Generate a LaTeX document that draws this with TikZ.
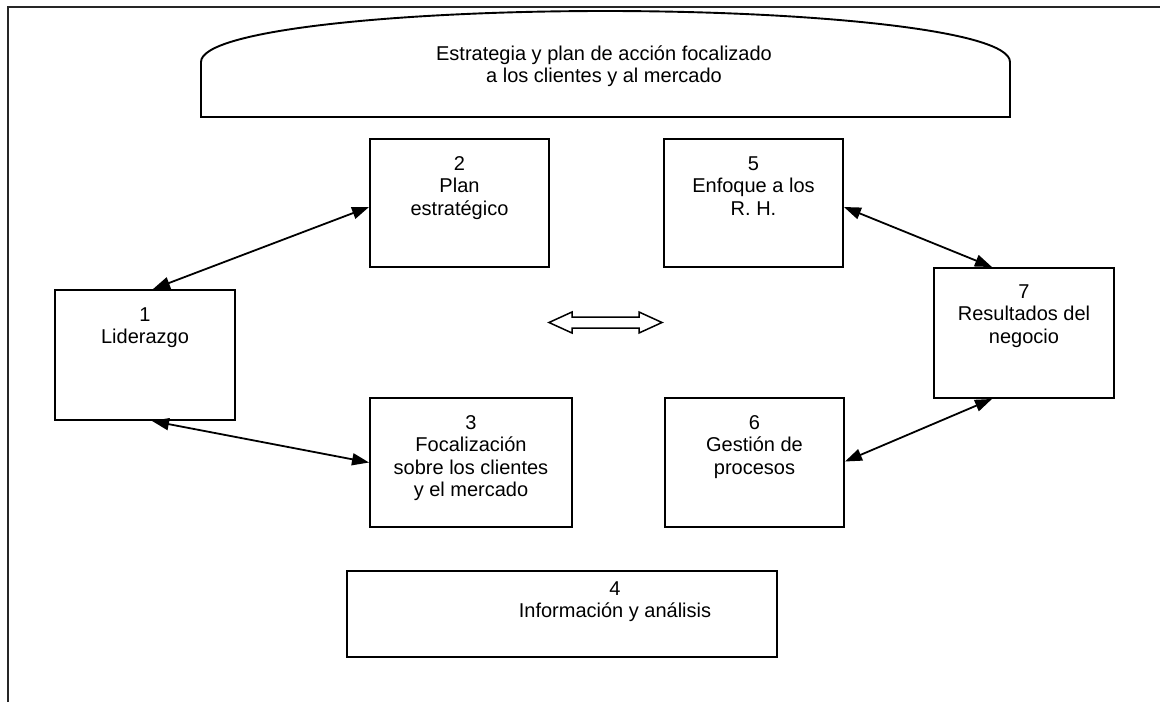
\documentclass[tikz,border=0pt]{standalone}
\usepackage{fontspec}
\setmainfont{Liberation Sans}
\usetikzlibrary{arrows.meta}
\begin{document}
\begin{tikzpicture}[x=1pt,y=-1pt,
  >={Triangle[length=17pt,width=12pt]},
  box/.style={draw,line width=1.9pt,inner sep=0pt},
  lbl/.style={anchor=north,align=center,inner sep=0pt,
    font=\fontsize{20}{22.5}\selectfont},
  conn/.style={<->,line width=1.8pt},
  frame/.style={line width=1.8pt,black!85}]
% canvas
\fill[white] (0,0) rectangle (1160,702);
\useasboundingbox (0,0) rectangle (1160,702);
% outer frame (top and left edges)
\draw[frame] (8,702) -- (8,7) -- (1160,7);
% arched banner
\draw[line width=1.9pt] (201,117) -- (201,62)
  .. controls (201,30) and (400,11) .. (605,11)
  .. controls (810,11) and (1010,30) .. (1010,62)
  -- (1010,117) -- cycle;
\node[lbl] (banner) at (604,44) {\rule{0pt}{16pt}Estrategia y plan de acción focalizado\\a los clientes y al mercado};
% boxes
\node[box,minimum width=180pt,minimum height=130pt] (b1) at (145,355) {};
\node[box,minimum width=179pt,minimum height=128pt] (b2) at (459.5,203) {};
\node[box,minimum width=202pt,minimum height=129pt] (b3) at (471,462.5) {};
\node[box,minimum width=430pt,minimum height=86pt] (b4) at (562,614) {};
\node[box,minimum width=179pt,minimum height=128pt] (b5) at (753.5,203) {};
\node[box,minimum width=179pt,minimum height=129pt] (b6) at (754.5,462.5) {};
\node[box,minimum width=180pt,minimum height=130pt] (b7) at (1024,333) {};
% box texts
\node[lbl] (t1) at ([yshift=-16pt]b1.north) {\rule{0pt}{16pt}1\\Liderazgo};
\node[lbl] (t2) at ([yshift=-16pt]b2.north) {\rule{0pt}{16pt}2\\Plan\\estratégico};
\node[lbl] (t3) at ([yshift=-16pt]b3.north) {\rule{0pt}{16pt}3\\Focalización\\sobre los clientes\\y el mercado};
\node[lbl] (t4) at ([xshift=53pt,yshift=-9pt]b4.north) {\rule{0pt}{16pt}4\\Información y análisis};
\node[lbl] (t5) at ([yshift=-16pt]b5.north) {\rule{0pt}{16pt}5\\Enfoque a los\\R. H.};
\node[lbl] (t6) at ([yshift=-16pt]b6.north) {\rule{0pt}{16pt}6\\Gestión de\\procesos};
\node[lbl] (t7) at ([yshift=-15pt]b7.north) {\rule{0pt}{16pt}7\\Resultados del\\negocio};
% connectors
\draw[conn] ([xshift=8pt]b1.north) -- ([yshift=-4pt]b2.west);
\draw[conn] ([xshift=7pt]b1.south) -- (b3.west);
\draw[conn] ([yshift=-4pt]b5.east) -- ([xshift=-32pt]b7.north);
\draw[conn] ([xshift=-32pt]b7.south) -- ([yshift=1pt]b6.east);
% hollow double arrow in the centre
\draw[line width=1.5pt,line join=miter] (549,322.5) -- (572,312) -- (572,317) -- (639,317)
  -- (639,312) -- (662,322.5) -- (639,333) -- (639,328) -- (572,328) -- (572,333) -- cycle;
\end{tikzpicture}
\end{document}
